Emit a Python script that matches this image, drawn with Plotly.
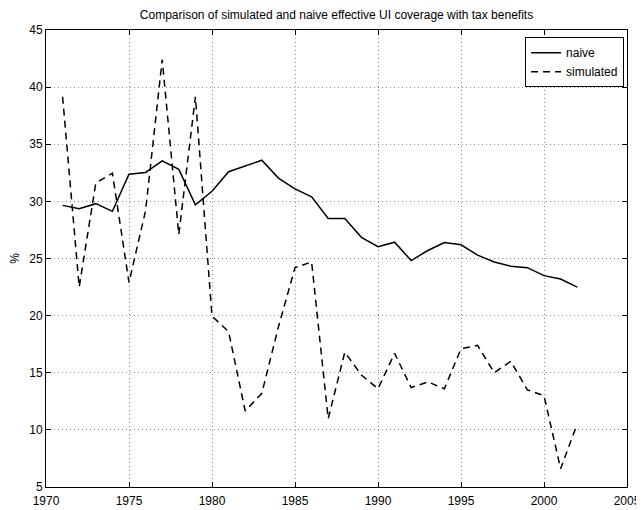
import plotly.graph_objects as go

years = list(range(1971, 2003))
naive = [29.65, 29.36, 29.8, 29.13, 32.38, 32.53, 33.55, 32.8, 29.7, 30.88,
         32.6, 33.08, 33.6, 32.04, 31.1, 30.4, 28.5, 28.5, 26.85, 26.04,
         26.43, 24.82, 25.7, 26.4, 26.2, 25.3, 24.7, 24.33, 24.2, 23.5,
         23.2, 22.5]
simulated = [39.16, 22.5, 31.6, 32.47, 22.9, 29.2, 42.4, 27.1, 39.16, 19.95,
             18.6, 11.65, 13.2, 19.0, 24.2, 24.7, 10.98, 16.8, 14.8, 13.6,
             16.7, 13.7, 14.2, 13.6, 17.1, 17.4, 15.0, 16.0, 13.5, 13.0,
             6.6, 10.5]

title = "Comparison of simulated and naive effective UI coverage with tax benefits"
font = "Liberation Sans, Arial, Helvetica, sans-serif"

fig = go.Figure()
fig.add_trace(go.Scatter(x=years, y=simulated, mode="lines", name="simulated",
                         line=dict(color="black", width=1.5, dash="7px,5px"),
                         legendrank=2))
fig.add_trace(go.Scatter(x=years, y=naive, mode="lines", name="naive",
                         line=dict(color="black", width=1.5),
                         legendrank=1))

axis_common = dict(showline=True, linecolor="black", linewidth=1, mirror="ticks",
                   ticks="inside", ticklen=5, tickcolor="black", automargin=False,
                   showgrid=True, gridcolor="#8a8a8a", griddash="1px,3px", gridwidth=1,
                   zeroline=False, tickfont=dict(family=font, size=12, color="black"))

fig.update_layout(
    width=644, height=510,
    margin=dict(l=38, r=25, t=22, b=31),
    paper_bgcolor="white", plot_bgcolor="white",
    title=dict(text=title, x=0.5, xanchor="center", xref="paper",
               yref="container", y=1 - 7 / 510, yanchor="middle",
               font=dict(family=font, size=12, color="black")),
    xaxis=dict(range=[1970, 2005], tickmode="linear", tick0=1970, dtick=5,
               ticklabelstandoff=3, **axis_common),
    yaxis=dict(range=[5, 45], tickmode="linear", tick0=5, dtick=5,
               title=dict(text="%", font=dict(family=font, size=12, color="black"), standoff=8),
               **axis_common),
    legend=dict(x=0.995, y=0.984, xanchor="right", yanchor="top",
                bordercolor="black", borderwidth=1, bgcolor="white",
                font=dict(family=font, size=12, color="black"),
                tracegroupgap=0, traceorder="normal"),
    showlegend=True,
)

fig.write_html("out.html")
